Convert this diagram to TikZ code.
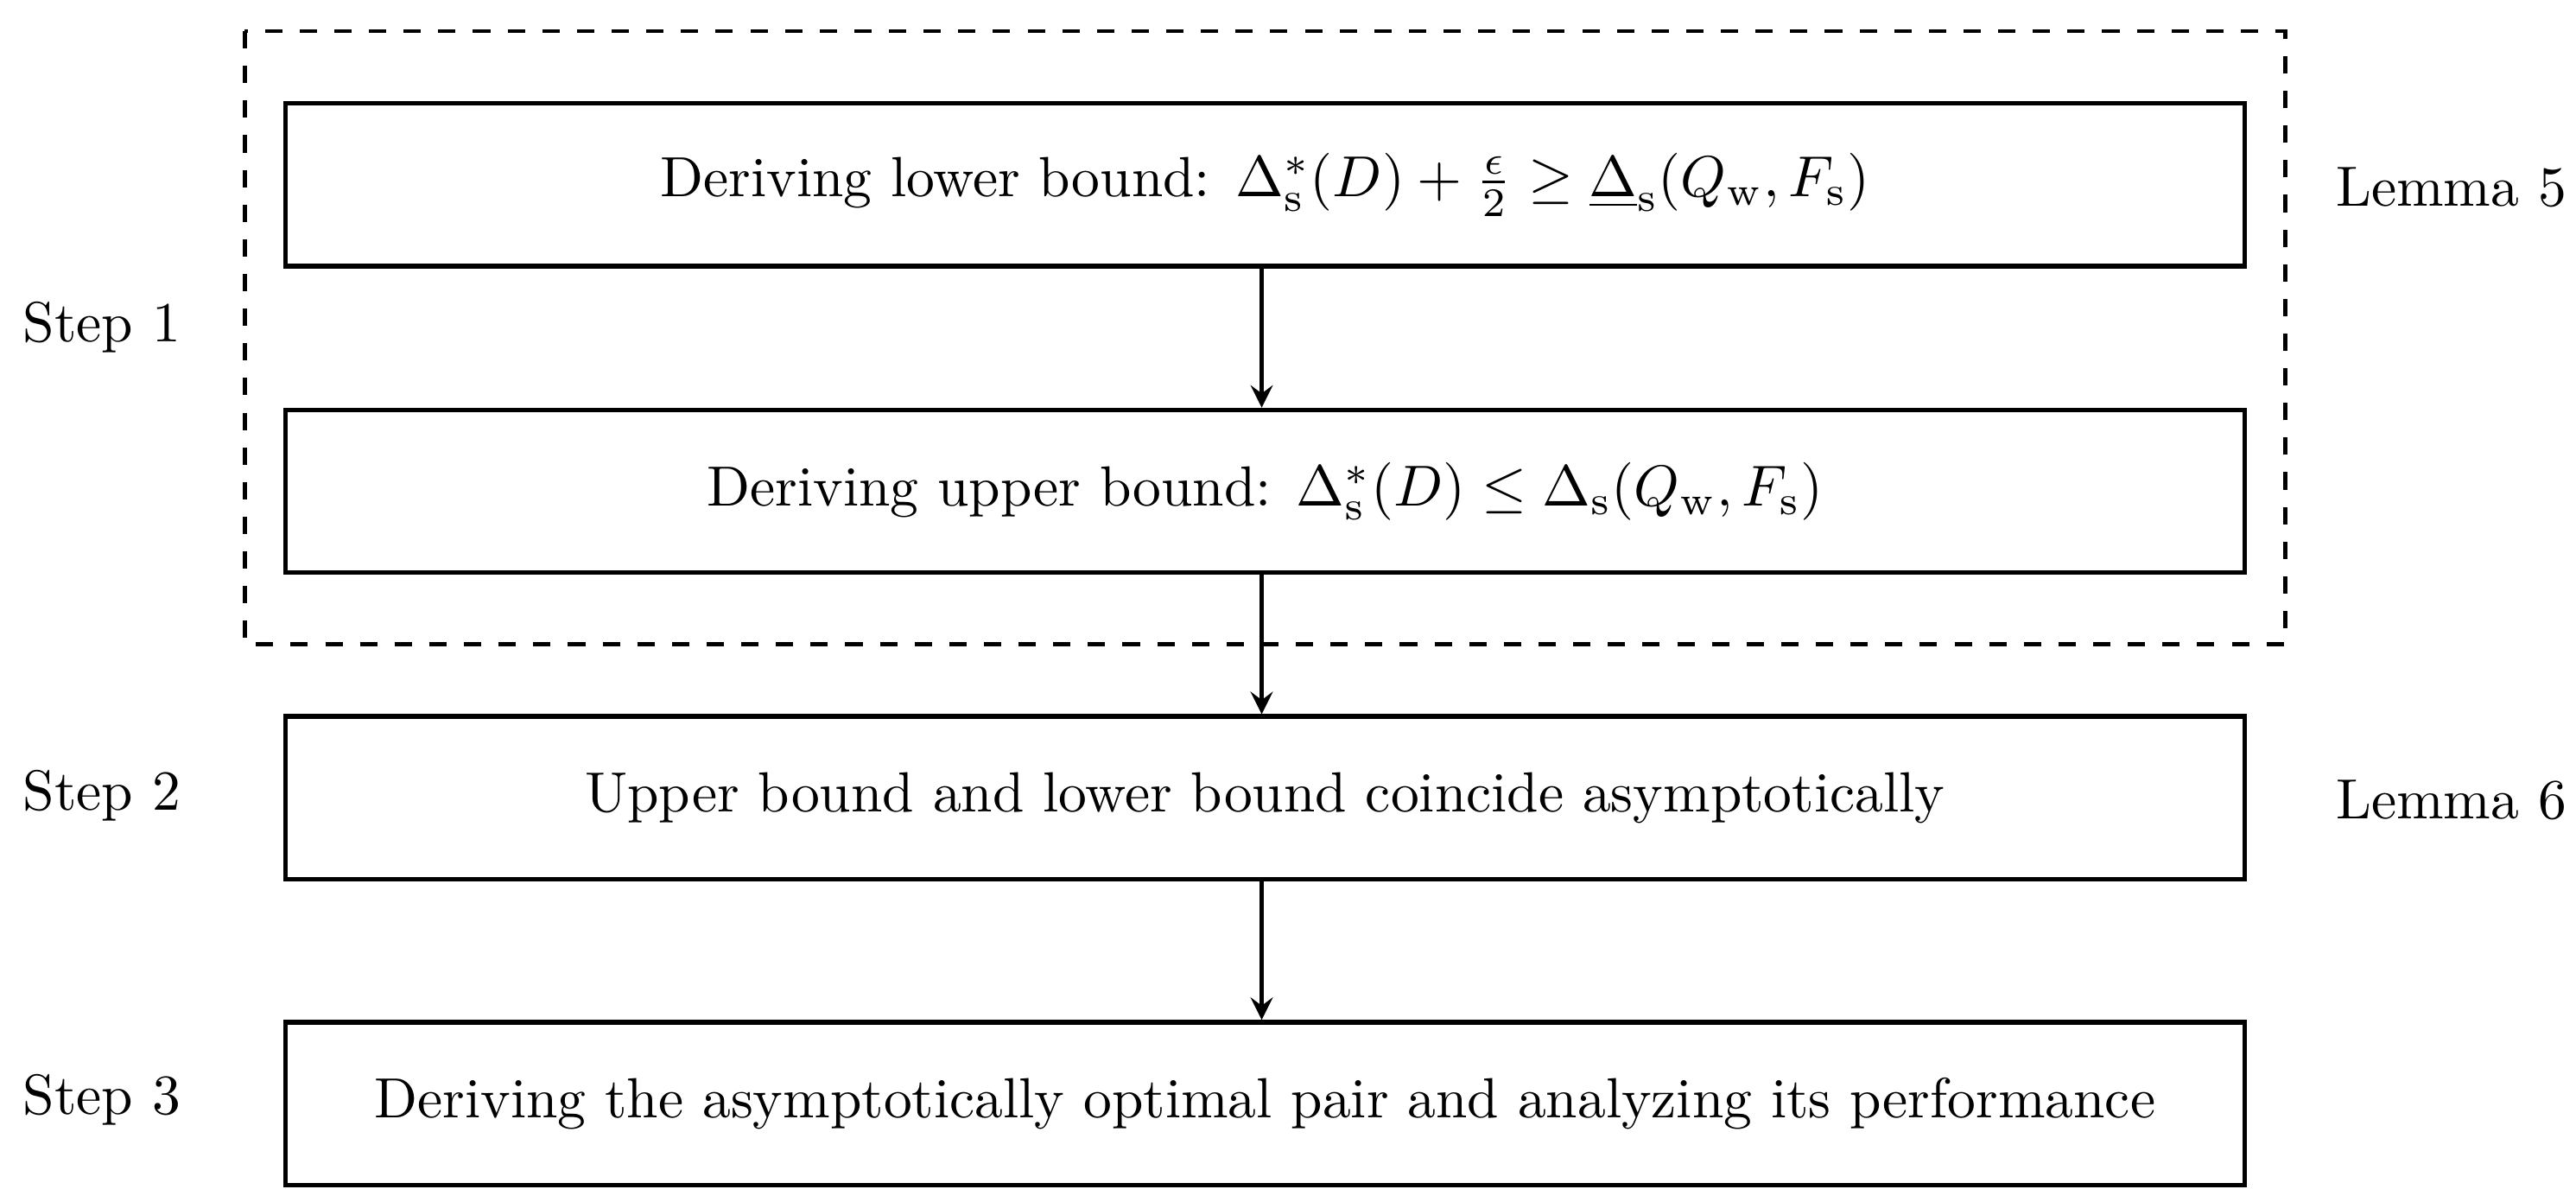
\documentclass[tikz,border=0pt]{standalone}
\usepackage{amsmath}
\begin{document}
\begin{tikzpicture}[x=0.01cm,y=-0.01cm,
  box/.style={draw,line width=0.8pt,minimum width=11.92cm,minimum height=0.99cm,inner sep=0pt,font=\fontsize{9.8}{12}\selectfont},
  lab/.style={font=\fontsize{9.8}{12}\selectfont},
  arr/.style={-stealth,line width=0.7pt}]
\useasboundingbox (0,0) rectangle (1568,731);
\node[box] (b1) at (770,112.5) {Deriving lower bound: $\Delta_{\mathrm{s}}^{*}(D)+\tfrac{\epsilon}{2}\geq \underline{\Delta}_{\mathrm{s}}(Q_{\mathrm{w}},F_{\mathrm{s}})$};
\node[box] (b2) at (770,299) {Deriving upper bound: $\Delta_{\mathrm{s}}^{*}(D)\leq \Delta_{\mathrm{s}}(Q_{\mathrm{w}},F_{\mathrm{s}})$};
\node[box] (b3) at (770,485.5) {Upper bound and lower bound coincide asymptotically};
\node[box] (b4) at (770,671.5) {Deriving the asymptotically optimal pair and analyzing its performance};
\draw[dashed,line width=0.7pt] (149,19) rectangle (1391,392);
\draw[arr] (b1.south -| 768,0) -- (b2.north -| 768,0);
\draw[arr] (b2.south -| 768,0) -- (b3.north -| 768,0);
\draw[arr] (b3.south -| 768,0) -- (b4.north -| 768,0);
\node[lab] (s1) at (62,199) {Step 1};
\node[lab] (s2) at (62,484) {Step 2};
\node[lab] (s3) at (62,669) {Step 3};
\node[lab] (l5) at (1492,114) {Lemma 5};
\node[lab] (l6) at (1492,487) {Lemma 6};
\end{tikzpicture}
\end{document}
